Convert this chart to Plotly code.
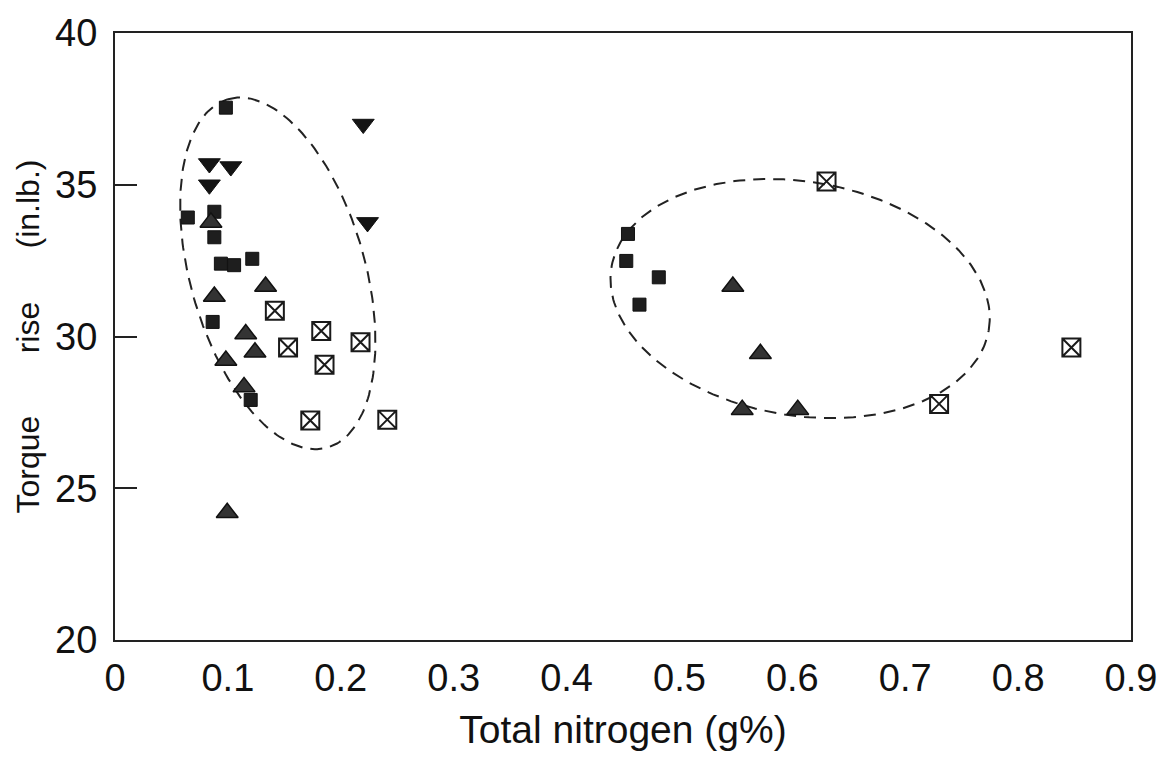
import numpy as np
import plotly.graph_objects as go

# --- data: total nitrogen (g%) vs torque rise (in.lb.) ---
sq_x = [0.0982, 0.0645, 0.0880, 0.0880, 0.0938, 0.1055, 0.1216, 0.0865, 0.1202,
        0.4544, 0.4529, 0.4817, 0.4646]
sq_y = [37.54, 33.92, 34.11, 33.27, 32.40, 32.35, 32.56, 30.48, 27.91,
        33.38, 32.49, 31.95, 31.05]

inv_x = [0.2199, 0.0836, 0.1026, 0.0836, 0.2237]
inv_y = [37.00, 35.70, 35.60, 35.00, 33.76]

tri_x = [0.0850, 0.0880, 0.1334, 0.1158, 0.1240, 0.0982, 0.1143, 0.0994,
         0.5473, 0.5717, 0.5556, 0.6048]
tri_y = [33.76, 31.32, 31.65, 30.08, 29.48, 29.21, 28.34, 24.19,
         31.65, 29.43, 27.59, 27.59]

box_x = [0.1416, 0.1827, 0.1533, 0.2175, 0.1856, 0.1730, 0.2412,
         0.6303, 0.8472, 0.7300]
box_y = [30.85, 30.18, 29.64, 29.81, 29.07, 27.23, 27.26,
         35.11, 29.64, 27.78]

x_ticks = [0, 0.1, 0.2, 0.3, 0.4, 0.5, 0.6, 0.7, 0.8, 0.9]
x_tick_text = ["0", "0.1", "0.2", "0.3", "0.4", "0.5", "0.6", "0.7", "0.8", "0.9"]
y_ticks = [20, 25, 30, 35, 40]

# grouping ellipses: centre and two half-axis vectors (data units)
ellipse_groups = [
    dict(c=(0.1442, 32.08), u=(-0.0440, 5.74), v=(0.0745, 0.793)),
    dict(c=(0.6069, 31.25), u=(0.1671, -1.039), v=(0.0172, 3.80)),
]


def ellipse_path(c, u, v, n=240):
    t = np.linspace(0, 2 * np.pi, n)
    ex = c[0] + u[0] * np.cos(t) + v[0] * np.sin(t)
    ey = c[1] + u[1] * np.cos(t) + v[1] * np.sin(t)
    return ex, ey


fig = go.Figure()

for g in ellipse_groups:
    ex, ey = ellipse_path(**g)
    fig.add_trace(go.Scatter(x=ex, y=ey, mode="lines",
                             line=dict(color="#222", width=2, dash="12px,8px"),
                             hoverinfo="skip"))

fig.add_trace(go.Scatter(x=sq_x, y=sq_y, mode="markers",
                         marker=dict(symbol="square", size=13, color="#1e1e1e",
                                     line=dict(color="#111", width=1))))
fig.add_trace(go.Scatter(x=inv_x, y=inv_y, mode="markers",
                         marker=dict(symbol="triangle-down", size=19, color="#141414",
                                     line=dict(color="#111", width=1))))
fig.add_trace(go.Scatter(x=tri_x, y=tri_y, mode="markers",
                         marker=dict(symbol="triangle-up", size=19, color="#333",
                                     line=dict(color="#111", width=1.5))))
fig.add_trace(go.Scatter(x=box_x, y=box_y, mode="markers",
                         marker=dict(symbol="square-x-open", size=18, color="#1a1a1a",
                                     line=dict(color="#1a1a1a", width=2))))

font_family = "Liberation Sans, Arial, sans-serif"
nb = "\u00a0"

fig.update_layout(
    width=1169, height=760,
    margin=dict(l=115, r=29, t=26, b=120),
    paper_bgcolor="white", plot_bgcolor="white",
    showlegend=False,
    font=dict(family=font_family, color="#111", size=38),
)
fig.update_xaxes(
    range=[0, 0.9], tickvals=x_ticks, ticktext=x_tick_text,
    showgrid=False, zeroline=False, ticks="",
    showline=True, linecolor="#222", linewidth=2, mirror=True,
    tickfont=dict(size=38), ticklabelstandoff=3,
    title=dict(text="Total nitrogen (g%)", font=dict(size=39), standoff=18),
)
fig.update_yaxes(
    range=[20, 40], tickvals=y_ticks,
    showgrid=False, zeroline=False, ticks="inside", ticklen=22, tickwidth=2,
    tickcolor="#222",
    showline=True, linecolor="#222", linewidth=2, mirror=True,
    tickfont=dict(size=38), ticklabelstandoff=8,
    title=dict(text="Torque" + nb * 7 + "rise" + nb * 6 + "(in.lb.)",
               font=dict(size=32), standoff=6),
)

fig.write_html("out.html")
